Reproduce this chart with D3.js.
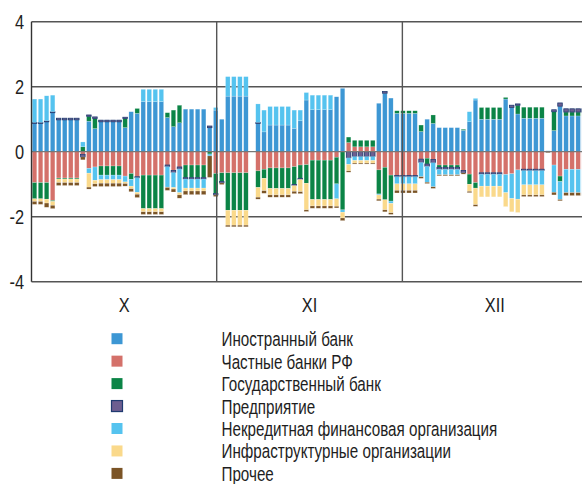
<!DOCTYPE html>
<html>
<head>
<meta charset="utf-8">
<script src="https://cdn.jsdelivr.net/npm/d3@7"></script>
<style>
  body { margin: 0; background: #fff; }
  svg text { font-family: "Liberation Sans", Arial, sans-serif; fill: #1e1e1e; }
</style>
</head>
<body>
<div id="chart"></div>
<script>
// данные по дням (92 слота, слот 36 пустой)
const seriesNames = [
  "Иностранный банк",
  "Частные банки РФ",
  "Государственный банк",
  "Предприятие",
  "Некредитная финансовая организация",
  "Инфраструктурные организации",
  "Прочее"
];
const seriesKeys = ["foreign", "privateRu", "stateBank", "enterprise", "nonCredit", "infra", "other"];
const seriesColors = ["#3d97d4", "#d4716a", "#0b8446", "#6d5e90", "#55c3ef", "#fad98b", "#7b5426"];

const foreign = [
  0.87, 0.87, 0.92, 1.20,
  0.98, 0.98, 0.98, 0.98, 0, 0.94, 0.71,
  0.92, 0.92, 0.92, 0.92, 0.74, 1.23, 1.18,
  1.54, 1.54, 1.54, 1.54, 1.05, 0.77, 0.89,
  1.31, 1.31, 1.31, 1.31, 0.74, 1.28, 1.00,
  1.71, 1.71, 1.71, 1.71, null, 0.87, 0.61,
  0.82, 0.82, 0.82, 0.82, 0.72, 0.95, 1.59,
  1.29, 1.29, 1.29, 1.29, 1.69, 1.95, 0,
  0, 0, 0, 0, 1.49, 1.80, 1.65,
  1.18, 1.18, 1.18, 1.18, 0.62, 1.00, 0.87,
  0.74, 0.74, 0.74, 0.74, 0.66, 0.92, 1.59,
  1.00, 1.00, 1.00, 1.00, 1.62, 1.36, 1.16,
  1.03, 1.03, 1.03, 1.03, 0, 0.65, 1.40,
  1.10, 1.10, 1.10, 1.10
];
const privateRu = [
  -0.95, -0.95, -0.95, -1.50,
  -0.81, -0.81, -0.81, -0.81, -0.08, -0.51, -0.47,
  -0.44, -0.44, -0.44, -0.44, -0.75, -0.67, -0.77,
  -0.72, -0.72, -0.72, -0.72, -0.41, -0.58, -0.47,
  -0.41, -0.41, -0.41, -0.41, 0, -0.67, -0.65,
  -0.65, -0.65, -0.65, -0.65, null, -0.59, -0.54,
  -0.50, -0.50, -0.50, -0.50, -0.46, -0.41, -0.40,
  -0.26, -0.26, -0.26, -0.26, -0.17, 0, 0.28,
  0.15, 0.15, 0.15, 0.15, -0.56, -0.48, -0.72,
  -0.73, -0.73, -0.73, -0.73, -0.23, -0.20, -0.24,
  -0.41, -0.41, -0.41, -0.41, -0.58, -0.69, -0.95,
  -0.65, -0.65, -0.65, -0.65, -0.70, -0.68, -0.56,
  -0.54, -0.54, -0.54, -0.54, 0, -0.41, -0.75,
  -0.54, -0.54, -0.54, -0.54
];
const stateBank = [
  -0.50, -0.50, -0.51, -0.03,
  -0.03, -0.03, -0.03, -0.03, 0.15, 0.15, 0.31,
  -0.28, -0.28, -0.28, -0.28, 0.28, -0.18, 0.15,
  -1.03, -1.03, -1.03, -1.03, 0.15, 0.51, 0.54,
  -0.39, -0.39, -0.39, -0.39, -0.07, -0.62, -0.27,
  -1.15, -1.15, -1.15, -1.15, null, -0.51, -0.28,
  -0.63, -0.63, -0.63, -0.63, -0.55, -0.41, -0.57,
  -1.21, -1.21, -1.21, -1.21, -0.82, -1.79, 0.17,
  0.20, 0.20, 0.20, 0.20, -0.74, -1.00, -0.80,
  0.08, 0.08, 0.08, 0.08, 0.20, -0.18, 0.26,
  -0.07, -0.07, -0.07, -0.07, 0.03, -0.31, -0.17,
  0.36, 0.36, 0.36, 0.36, 0.05, 0, 0.27,
  0.34, 0.34, 0.34, 0.34, 0, 0.58, -0.17,
  0.12, 0.12, 0.12, 0.12
];
const enterprise = [
  0.03, 0.03, 0.03, 0.03,
  0.05, 0.05, 0.05, 0.05, -0.08, 0.04, 0.05,
  0.05, 0.05, 0.05, 0.05, 0.04, 0, -0.03,
  0, 0, 0, 0, -0.05, -0.06, -0.06,
  -0.04, -0.04, -0.04, -0.04, 0.05, -0.04, -0.04,
  0, 0, 0, 0, null, 0.03, 0,
  0, 0, 0, 0, -0.03, -0.03, 0,
  0, 0, 0, 0, 0, 0, -0.19,
  -0.15, -0.15, -0.15, -0.15, 0, 0.05, 0,
  -0.04, -0.04, -0.04, -0.04, -0.10, -0.07, -0.10,
  -0.06, -0.06, -0.06, -0.06, -0.07, 0, 0,
  -0.04, -0.04, -0.04, -0.04, 0, 0.07, 0.04,
  -0.04, -0.04, -0.04, -0.04, 0, 0.06, 0.10,
  0.10, 0.10, 0.10, 0.10
];
const nonCredit = [
  0.72, 0.72, 0.77, 0.51,
  0, 0, 0, 0, 0.15, -0.15, -0.41,
  -0.14, -0.14, -0.14, -0.14, -0.18, -0.21, -0.45,
  0.38, 0.38, 0.38, 0.38, -0.63, -0.46, -0.73,
  -0.28, -0.28, -0.28, -0.28, -0.06, 0.08, 0,
  0.60, 0.60, 0.60, 0.60, null, 0.57, 0.67,
  0.57, 0.57, 0.57, 0.57, 0.56, 0.33, 0.23,
  0.45, 0.45, 0.45, 0.45, -0.46, -0.07, -0.20,
  -0.12, -0.12, -0.12, -0.12, -0.03, 0, -0.07,
  -0.22, -0.22, -0.22, -0.22, -0.44, -0.49, -0.74,
  -0.17, -0.17, -0.17, -0.17, 0, 0.31, 0.05,
  -0.37, -0.37, -0.37, -0.37, -0.56, -0.76, -0.90,
  -0.44, -0.44, -0.44, -0.44, 0.03, -0.84, -0.55,
  -0.72, -0.72, -0.72, -0.72
];
const infra = [
  -0.08, -0.08, -0.12, -0.12,
  -0.11, -0.11, -0.11, -0.11, 0, -0.43, -0.11,
  -0.11, -0.11, -0.11, -0.11, -0.05, -0.08, -0.06,
  -0.10, -0.10, -0.10, -0.10, -0.01, -0.05, -0.07,
  -0.09, -0.09, -0.09, -0.09, 0, 0, 0,
  -0.46, -0.46, -0.46, -0.46, null, -0.30, -0.38,
  -0.20, -0.20, -0.20, -0.20, -0.18, -0.38, -0.82,
  -0.20, -0.20, -0.20, -0.20, -0.23, -0.18, -0.20,
  -0.08, -0.08, -0.08, -0.08, -0.13, -0.31, -0.29,
  -0.20, -0.20, -0.20, -0.20, 0, 0, 0,
  0, 0, 0, 0, 0, -0.22, -0.51,
  -0.33, -0.33, -0.33, -0.33, -0.43, -0.41, -0.41,
  -0.31, -0.31, -0.31, -0.31, 0, 0, 0,
  0, 0, 0, 0
];
const other = [
  -0.09, -0.09, -0.13, -0.10,
  -0.09, -0.09, -0.09, -0.09, -0.09, -0.06, -0.08,
  -0.10, -0.10, -0.10, -0.10, -0.08, -0.09, -0.10,
  -0.08, -0.08, -0.08, -0.08, -0.09, -0.09, -0.10,
  -0.11, -0.11, -0.11, -0.11, -0.66, -0.05, -0.05,
  -0.05, -0.05, -0.05, -0.05, null, -0.06, -0.08,
  -0.07, -0.07, -0.07, -0.07, -0.07, -0.06, -0.05,
  -0.07, -0.07, -0.07, -0.07, -0.05, -0.08, -0.04,
  -0.03, -0.03, -0.03, -0.03, -0.05, -0.06, -0.05,
  -0.08, -0.08, -0.08, -0.08, -0.05, -0.04, -0.05,
  -0.03, -0.03, -0.03, -0.03, -0.04, -0.04, -0.05,
  0, 0, 0, 0, 0, 0, 0,
  -0.05, -0.05, -0.05, -0.05, -0.03, -0.08, -0.04,
  -0.09, -0.09, -0.09, -0.09
];

const yTicks = [-4, -2, 0, 2, 4];
const monthLabels = ["X", "XI", "XII"];
// границы месяцев в единицах дней
const monthBounds = [0, 30.66, 61.4, 92];

const width = 582;
const height = 484;
const margin = { top: 21.7, left: 31.5, plotRight: 587.2, plotBottom: 281.7 };
// узкое начертание: сжимаем текст по горизонтали
const narrow = 0.78;

const seriesByKey = { foreign, privateRu, stateBank, enterprise, nonCredit, infra, other };
const nDays = foreign.length;

// таблица для стека
const rows = d3.range(nDays)
  .filter((i) => foreign[i] !== null)
  .map((i) => {
    const row = { day: i };
    seriesKeys.forEach((k) => (row[k] = seriesByKey[k][i]));
    return row;
  });

const svg = d3.select("#chart")
  .append("svg")
  .attr("width", width)
  .attr("height", height);

const x = d3.scaleBand()
  .domain(d3.range(nDays))
  .range([margin.left, margin.plotRight])
  .paddingInner(0.25)
  .paddingOuter(0.125);

const xLin = d3.scaleLinear()
  .domain([0, nDays])
  .range([margin.left, margin.plotRight]);

const y = d3.scaleLinear()
  .domain([-4, 4])
  .range([margin.plotBottom, margin.top]);

const lineColor = "#555";

// горизонтальные линии сетки
svg.append("g")
  .selectAll("line")
  .data(yTicks.filter((t) => t !== 0))
  .join("line")
  .attr("x1", margin.left)
  .attr("x2", width)
  .attr("y1", (d) => y(d))
  .attr("y2", (d) => y(d))
  .attr("stroke", lineColor)
  .attr("stroke-width", 1.4);

// столбики
const stack = d3.stack()
  .keys(seriesKeys)
  .value((d, k) => d[k] || 0)
  .offset(d3.stackOffsetDiverging);

const layers = stack(rows);

svg.append("g")
  .selectAll("g")
  .data(layers)
  .join("g")
  .attr("fill", (d, i) => seriesColors[i])
  .attr("stroke", (d) => (d.key === "enterprise" ? "#1f3a70" : "#ffffff"))
  .attr("stroke-width", (d) => (d.key === "enterprise" ? 0.8 : 0.4))
  .attr("stroke-opacity", (d) => (d.key === "enterprise" ? 1 : 0.5))
  .selectAll("rect")
  .data((d) => d.filter((s) => s[1] - s[0] !== 0))
  .join("rect")
  .attr("x", (d) => x(d.data.day))
  .attr("width", x.bandwidth())
  .attr("y", (d) => y(Math.max(d[0], d[1])))
  .attr("height", (d) => Math.abs(y(d[0]) - y(d[1])));

// нулевая линия поверх столбиков
svg.append("line")
  .attr("x1", margin.left)
  .attr("x2", width)
  .attr("y1", y(0))
  .attr("y2", y(0))
  .attr("stroke", "#777")
  .attr("stroke-width", 1.2);

// разделители месяцев
svg.append("g")
  .selectAll("line")
  .data(monthBounds.slice(1, -1))
  .join("line")
  .attr("x1", (d) => xLin(d))
  .attr("x2", (d) => xLin(d))
  .attr("y1", y(4))
  .attr("y2", y(-4))
  .attr("stroke", lineColor)
  .attr("stroke-width", 1.4);

// левая ось
svg.append("line")
  .attr("x1", margin.left)
  .attr("x2", margin.left)
  .attr("y1", y(4))
  .attr("y2", y(-4))
  .attr("stroke", "#333")
  .attr("stroke-width", 1.4);

// подписи оси Y
svg.append("g")
  .selectAll("text")
  .data(yTicks)
  .join("text")
  .attr("transform", (d) => `translate(24, ${y(d) + 7.5}) scale(${narrow}, 1)`)
  .attr("text-anchor", "end")
  .style("font-size", "21px")
  .text((d) => d);

// подписи месяцев
svg.append("g")
  .selectAll("text")
  .data(monthLabels)
  .join("text")
  .attr("transform", (d, i) =>
    `translate(${xLin((monthBounds[i] + monthBounds[i + 1]) / 2)}, 311.5) scale(${narrow}, 1)`)
  .attr("text-anchor", "middle")
  .style("font-size", "21px")
  .text((d) => d);

// легенда
const legend = svg.append("g")
  .selectAll("g")
  .data(seriesNames)
  .join("g")
  .attr("transform", (d, i) => `translate(0, ${338.7 + i * 22.45})`);

legend.append("rect")
  .attr("x", 111.5)
  .attr("y", -5.5)
  .attr("width", 11)
  .attr("height", 11)
  .attr("fill", (d, i) => seriesColors[i])
  .attr("stroke", (d, i) => (seriesKeys[i] === "enterprise" ? "#1f3a70" : "none"))
  .attr("stroke-width", 1.2);

legend.append("text")
  .attr("transform", `translate(221.5, 7.5) scale(${narrow}, 1)`)
  .style("font-size", "19.5px")
  .text((d) => d);
</script>
</body>
</html>
